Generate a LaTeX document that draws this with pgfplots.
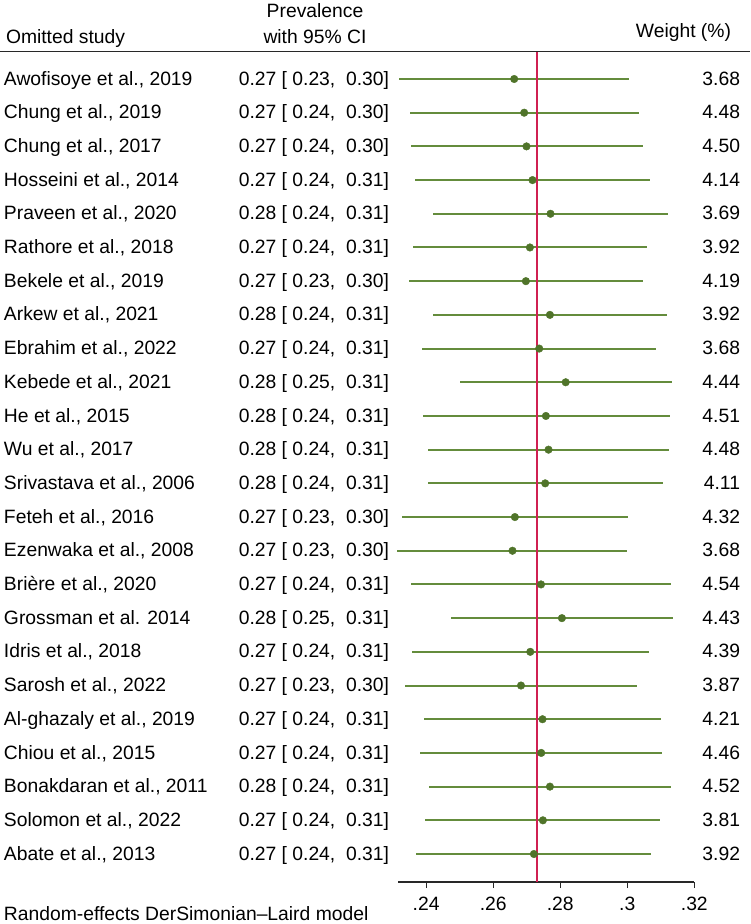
\documentclass[border=0pt]{standalone}
\usepackage{fontspec}
\setmainfont{Liberation Sans}
\usepackage{pgfplots}
\usepackage{pgfplotstable}
\pgfplotsset{compat=1.18}
\definecolor{ciline}{RGB}{100,140,60}
\definecolor{cimark}{RGB}{80,116,42}
\definecolor{overall}{RGB}{208,32,82}
\definecolor{axcol}{RGB}{40,40,40}

\pgfplotstableread{
i lo hi pt
1 0.23194 0.30060 0.26627
2 0.23513 0.30337 0.26925
3 0.23543 0.30469 0.26994
4 0.23672 0.30666 0.27173
5 0.24218 0.31203 0.27710
6 0.23603 0.30597 0.27096
7 0.23493 0.30469 0.26976
8 0.24200 0.31194 0.27693
9 0.23872 0.30866 0.27373
10 0.25000 0.31334 0.28164
11 0.23901 0.31263 0.27573
12 0.24069 0.31233 0.27651
13 0.24051 0.31066 0.27552
14 0.23293 0.30009 0.26648
15 0.23143 0.29991 0.26576
16 0.23552 0.31304 0.27427
17 0.24740 0.31364 0.28051
18 0.23585 0.30636 0.27107
19 0.23373 0.30299 0.26830
20 0.23949 0.31006 0.27472
21 0.23821 0.31045 0.27433
22 0.24081 0.31304 0.27693
23 0.23979 0.30985 0.27484
24 0.23710 0.30707 0.27215
}\ci

\newcommand\fs{\fontsize{19.3pt}{23pt}\selectfont}
\newcommand\studyrow[4]{%
  \node[txt, anchor=base west] at (4pt,{-(85+33.7*(#1-1))*1pt}) {#2};
  \node[txt, anchor=base east] at (389pt,{-(85+33.7*(#1-1))*1pt}) {#3};
  \node[txt, anchor=base east] at (740pt,{-(85+33.7*(#1-1))*1pt}) {#4};}

\begin{document}
\begin{tikzpicture}[txt/.style={inner sep=0pt, outer sep=0pt, font=\fs}]
\path[use as bounding box] (0pt,0pt) rectangle (750pt,-924pt);
\begin{axis}[
  at={(398.3pt,-882pt)}, anchor=south west,
  scale only axis, width=296pt, height=830.3pt,
  xmin=0.2317, xmax=0.32, ymin=0.169, ymax=24.81,
  clip=false,
  axis x line*=bottom, axis y line=none,
  axis line style={draw=axcol, line width=1.2pt, -},
  xtick={0.24,0.26,0.28,0.3,0.32},
  xticklabels={.24,.26,.28,.3,.32},
  tick align=outside, major tick length=6pt,
  tick style={draw=axcol, line width=1.2pt},
  xticklabel style={font=\fs, anchor=base, inner sep=0pt, yshift=-22pt},
  ytick=\empty,
]
\addplot[only marks, mark=none,
  error bars/.cd, x dir=both, x explicit, error mark=none,
  error bar style={draw=ciline, line width=2pt, solid}]
  table[x=pt, y expr=25-\thisrow{i},
        x error plus expr=\thisrow{hi}-\thisrow{pt},
        x error minus expr=\thisrow{pt}-\thisrow{lo}] {\ci};
\addplot[overall, line width=2pt, mark=none] coordinates {(0.27304,0.169) (0.27304,24.81)};
\addplot[only marks, mark=*, mark size=3.8pt, mark options={fill=cimark, draw=cimark}]
  table[x=pt, y expr=25-\thisrow{i}] {\ci};
\end{axis}
\draw[line width=1.2pt, axcol] (0pt,-51.7pt) -- (750pt,-51.7pt);
\node[txt, anchor=base] at (315pt,-17pt) {Prevalence};
\node[txt, anchor=base] at (315pt,-43pt) {with 95\% CI};
\node[txt, anchor=base west] at (6pt,-43pt) {Omitted study};
\node[txt, anchor=base east] at (731pt,-37pt) {Weight (\%)};
\studyrow{1}{Awofisoye et al., 2019}{0.27 [ 0.23, \ 0.30]}{3.68}
\studyrow{2}{Chung et al., 2019}{0.27 [ 0.24, \ 0.30]}{4.48}
\studyrow{3}{Chung et al., 2017}{0.27 [ 0.24, \ 0.30]}{4.50}
\studyrow{4}{Hosseini et al., 2014}{0.27 [ 0.24, \ 0.31]}{4.14}
\studyrow{5}{Praveen et al., 2020}{0.28 [ 0.24, \ 0.31]}{3.69}
\studyrow{6}{Rathore et al., 2018}{0.27 [ 0.24, \ 0.31]}{3.92}
\studyrow{7}{Bekele et al., 2019}{0.27 [ 0.23, \ 0.30]}{4.19}
\studyrow{8}{Arkew et al., 2021}{0.28 [ 0.24, \ 0.31]}{3.92}
\studyrow{9}{Ebrahim et al., 2022}{0.27 [ 0.24, \ 0.31]}{3.68}
\studyrow{10}{Kebede et al., 2021}{0.28 [ 0.25, \ 0.31]}{4.44}
\studyrow{11}{He et al., 2015}{0.28 [ 0.24, \ 0.31]}{4.51}
\studyrow{12}{Wu et al., 2017}{0.28 [ 0.24, \ 0.31]}{4.48}
\studyrow{13}{Srivastava et al., 2006}{0.28 [ 0.24, \ 0.31]}{4.11}
\studyrow{14}{Feteh et al., 2016}{0.27 [ 0.23, \ 0.30]}{4.32}
\studyrow{15}{Ezenwaka et al., 2008}{0.27 [ 0.23, \ 0.30]}{3.68}
\studyrow{16}{Brière et al., 2020}{0.27 [ 0.24, \ 0.31]}{4.54}
\studyrow{17}{Grossman et al. 2014}{0.28 [ 0.25, \ 0.31]}{4.43}
\studyrow{18}{Idris et al., 2018}{0.27 [ 0.24, \ 0.31]}{4.39}
\studyrow{19}{Sarosh et al., 2022}{0.27 [ 0.23, \ 0.30]}{3.87}
\studyrow{20}{Al-ghazaly et al., 2019}{0.27 [ 0.24, \ 0.31]}{4.21}
\studyrow{21}{Chiou et al., 2015}{0.27 [ 0.24, \ 0.31]}{4.46}
\studyrow{22}{Bonakdaran et al., 2011}{0.28 [ 0.24, \ 0.31]}{4.52}
\studyrow{23}{Solomon et al., 2022}{0.27 [ 0.24, \ 0.31]}{3.81}
\studyrow{24}{Abate et al., 2013}{0.27 [ 0.24, \ 0.31]}{3.92}
\node[txt, anchor=base west] at (4pt,-920pt) {Random-effects DerSimonian–Laird model};
\end{tikzpicture}
\end{document}
